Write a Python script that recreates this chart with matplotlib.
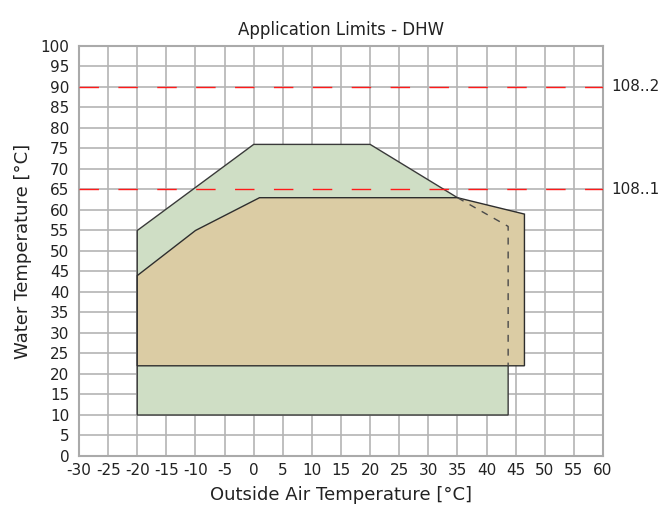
import matplotlib.pyplot as plt
import numpy as np

# envelope corners (outside air temp, water temp)
green_x = [-20, -20, 0, 20, 35, 43.7, 43.7, -20]
green_y = [10, 55, 76, 76, 63, 56, 10, 10]
tan_x = [-20, -20, -10, 1, 35, 46.5, 46.5, -20]
tan_y = [22, 44, 55, 63, 63, 59, 22, 22]
hidden_x = [35, 43.7, 43.7]
hidden_y = [63, 56, 22]
limit_vals = [90, 65]
limit_labels = ['108..2', '108..1']
xticks = np.arange(-30, 61, 5)
yticks = np.arange(0, 101, 5)

fig = plt.figure(figsize=(6.72, 5.18), dpi=100)
ax = fig.add_axes([0.1176, 0.1197, 0.7798, 0.7915])

ax.fill(green_x, green_y, facecolor='#cfdec5', edgecolor='#3a3a3a', lw=1, zorder=2)
ax.fill(tan_x, tan_y, facecolor='#dbcca4', edgecolor='#2e2e2e', lw=1, zorder=3)
ax.plot(hidden_x, hidden_y, color='#4a4a4a', lw=1, ls=(0, (5, 5)), zorder=4)

for v, lab in zip(limit_vals, limit_labels):
    ax.axhline(v, color='#ff1a1a', lw=1, ls=(0, (14, 14)), zorder=5)
    ax.text(61.5, v, lab, va='center', ha='left', fontsize=11, color='#222222')

ax.set_xlim(-30, 60)
ax.set_ylim(0, 100)
ax.set_xticks(xticks)
ax.set_xticklabels([str(t) for t in xticks])
ax.set_yticks(yticks)
ax.set_yticklabels([str(t) for t in yticks])
ax.tick_params(length=0, labelsize=11, colors='#222222')
ax.tick_params(axis='x', pad=5)
ax.tick_params(axis='y', pad=7)
ax.grid(True, color='#b4b4b4', lw=1.2, zorder=1)
ax.set_axisbelow(True)
for s in ax.spines.values():
    s.set_color('#aaaaaa')
    s.set_linewidth(1.5)

ax.set_title('Application Limits - DHW', fontsize=12, pad=8, color='#222222')
ax.set_xlabel('Outside Air Temperature [°C]', fontsize=13, labelpad=6, color='#222222')
ax.set_ylabel('Water Temperature [°C]', fontsize=13, labelpad=6, color='#222222')

plt.savefig('out.png', dpi=100)
